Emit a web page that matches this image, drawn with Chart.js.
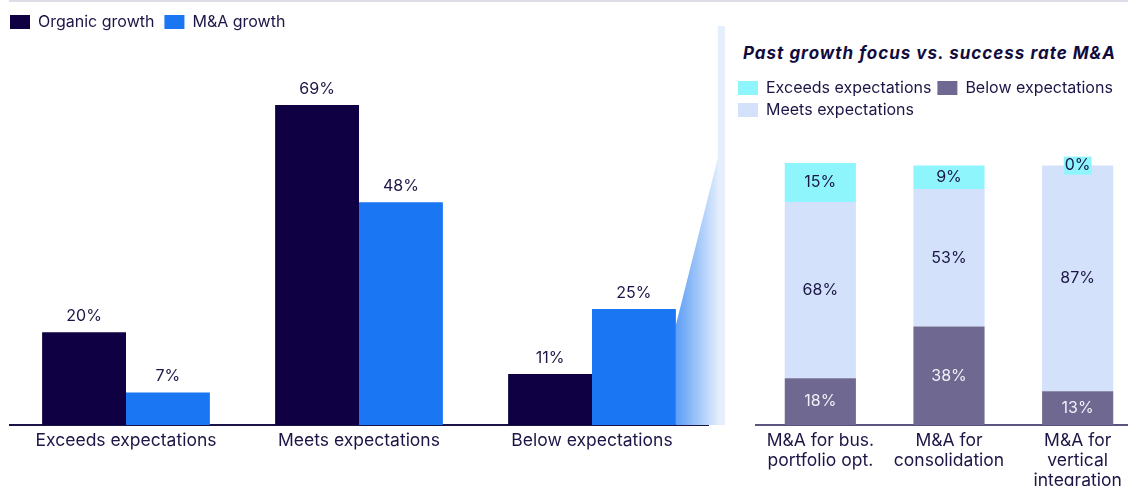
<!DOCTYPE html>
<html>
<head>
<meta charset="utf-8">
<script src="https://cdn.jsdelivr.net/npm/chart.js@4.4.0/dist/chart.umd.min.js"></script>
<style>
  body { margin: 0; width: 1128px; height: 486px; overflow: hidden; background: #fff; position: relative; font-family: Inter, sans-serif; }
  #topline { position: absolute; left: 9px; top: 0; width: 1119px; height: 2px; background: #dddce7; }
  #box1 { position: absolute; left: 0; top: 0; width: 728px; height: 486px; }
  #box2 { position: absolute; left: 732px; top: 74px; width: 410px; height: 412px; }
  #title2 { position: absolute; left: 743px; top: 43px; font: italic bold 17px Inter, sans-serif; color: #110c3d; letter-spacing: 1.0px; white-space: nowrap; }
</style>
</head>
<body>
<div id="topline"></div>
<div id="box1"><canvas id="growthChart"></canvas></div>
<div id="title2">Past growth focus vs. success rate M&amp;A</div>
<div id="box2"><canvas id="focusChart"></canvas></div>
<script>
// left: success rate by growth type
const growthCats = ['Exceeds expectations', 'Meets expectations', 'Below expectations'];
const organicVals = [20, 69, 11];
const mnaVals = [7, 48, 25];

// right: M&A focus split
const focusCats = [['M&A for bus.', 'portfolio opt.'], ['M&A for', 'consolidation'], ['M&A for', 'vertical', 'integration']];
const exceedsVals = [15, 9, 0];
const meetsVals = [68, 53, 87];
const belowVals = [18, 38, 13];

const textCol = '#1b1646';
Chart.defaults.font.family = 'Inter';
Chart.defaults.color = textCol;

// percent labels, above the bar or centred in the segment
const valueLabels = {
    id: 'valueLabels',
    afterDatasetsDraw(chart, args, opts) {
        const ctx = chart.ctx;
        ctx.save();
        ctx.font = opts.font;
        ctx.textAlign = 'center';
        ctx.textBaseline = 'middle';
        chart.data.datasets.forEach((ds, i) => {
            chart.getDatasetMeta(i).data.forEach((bar, j) => {
                const v = ds.data[j];
                const txt = v + '%';
                const y = opts.inside ? (bar.y + bar.base) / 2 : bar.y - 16;
                if (opts.inside && v === 0) {
                    const w = ctx.measureText(txt).width + 2;
                    ctx.fillStyle = ds.backgroundColor;
                    ctx.fillRect(bar.x - w / 2, y - 9, w, 18);
                }
                ctx.fillStyle = ds.labelColor || textCol;
                ctx.fillText(txt, bar.x, y);
            });
        });
        ctx.restore();
    }
};

// fading wedge from the M&A "below" bar towards the right panel
const wedge = {
    id: 'wedge',
    beforeDatasetsDraw(chart) {
        const ctx = chart.ctx;
        const bar = chart.getDatasetMeta(1).data[2];
        const x0 = bar.x + bar.width / 2;
        const x1 = x0 + 44;
        const base = bar.base;
        ctx.save();
        const g = ctx.createLinearGradient(x0, 0, x1, 0);
        g.addColorStop(0, '#5c9df6');
        g.addColorStop(1, '#e6f0fd');
        ctx.fillStyle = g;
        ctx.beginPath();
        ctx.moveTo(x0, bar.y + 16);
        ctx.lineTo(x1, 150);
        ctx.lineTo(x1, base);
        ctx.lineTo(x0, base);
        ctx.closePath();
        ctx.fill();
        ctx.fillStyle = '#e4eefc';
        ctx.fillRect(x1 - 2, 26, 7, base - 26);
        ctx.restore();
    }
};

const growthChart = new Chart(document.getElementById('growthChart'), {
    type: 'bar',
    data: {
        labels: growthCats,
        datasets: [
            { label: 'Organic growth', data: organicVals, backgroundColor: '#0e0042' },
            { label: 'M&A growth', data: mnaVals, backgroundColor: '#1b76f4' }
        ]
    },
    options: {
        responsive: true,
        maintainAspectRatio: false,
        animation: false,
        layout: { padding: { top: 4, right: 19.5, left: 0, bottom: 0 } },
        datasets: { bar: { categoryPercentage: 0.72, barPercentage: 1.0 } },
        scales: {
            x: {
                grid: { display: false },
                border: { display: true, color: '#1a1446', width: 2 },
                ticks: { font: { size: 17.5, lineHeight: 1.15 }, color: textCol, padding: -2 },
                afterFit: s => { s.height = 61; }
            },
            y: {
                min: 0,
                max: 83,
                grid: { display: false },
                border: { display: false },
                ticks: { display: false },
                afterFit: s => { s.width = 9.5; }
            }
        },
        plugins: {
            legend: {
                align: 'start',
                labels: { boxWidth: 20, boxHeight: 14, padding: 10, font: { size: 16 }, color: textCol }
            },
            tooltip: { enabled: false },
            valueLabels: { font: '16px Inter', inside: false }
        }
    },
    plugins: [wedge, valueLabels]
});

const legendRank = { 2: 0, 0: 1, 1: 2 };

const focusChart = new Chart(document.getElementById('focusChart'), {
    type: 'bar',
    data: {
        labels: focusCats,
        datasets: [
            { label: 'Below expectations', data: belowVals, backgroundColor: '#6f6890', labelColor: '#f2f0f7' },
            { label: 'Meets expectations', data: meetsVals, backgroundColor: '#d3e1fa' },
            { label: 'Exceeds expectations', data: exceedsVals, backgroundColor: '#8ff5fd' }
        ]
    },
    options: {
        responsive: true,
        maintainAspectRatio: false,
        animation: false,
        layout: { padding: 0 },
        datasets: { bar: { categoryPercentage: 0.553, barPercentage: 1.0 } },
        scales: {
            x: {
                stacked: true,
                grid: { display: false },
                border: { display: true, color: '#5a5480', width: 2 },
                ticks: { font: { size: 17.5, lineHeight: 1.143 }, color: textCol, padding: -2, maxRotation: 0 },
                afterFit: s => { s.height = 61; }
            },
            y: {
                stacked: true,
                min: 0,
                max: 114.5,
                grid: { display: false },
                border: { display: false },
                ticks: { display: false },
                afterFit: s => { s.width = 24; }
            }
        },
        plugins: {
            legend: {
                align: 'start',
                labels: {
                    boxWidth: 20, boxHeight: 14, padding: 6, font: { size: 16 }, color: textCol,
                    sort: (a, b) => legendRank[a.datasetIndex] - legendRank[b.datasetIndex]
                }
            },
            tooltip: { enabled: false },
            valueLabels: { font: '16px Inter', inside: true }
        }
    },
    plugins: [valueLabels]
});
</script>
</body>
</html>
